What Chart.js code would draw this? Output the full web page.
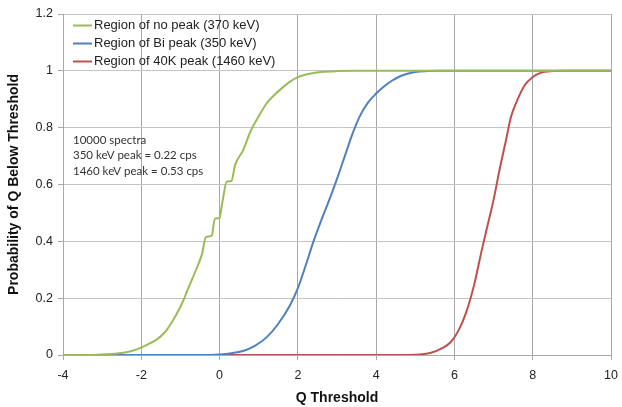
<!DOCTYPE html>
<html>
<head>
<meta charset="utf-8">
<script src="https://cdn.jsdelivr.net/npm/chart.js@4/dist/chart.umd.min.js"></script>
<style>
  html, body { margin: 0; padding: 0; background: #fff; }
  #wrap { width: 622px; height: 407px; position: relative; }
</style>
</head>
<body>
<div id="wrap"><canvas id="chart" width="622" height="407"></canvas></div>
<script>
// data
const seriesNames = ['Region of no peak (370 keV)', 'Region of Bi peak (350 keV)', 'Region of 40K peak (1460 keV)'];
const seriesColors = ['#9bbb59', '#4f81bd', '#c0504d'];

const noPeakX = [-4, -3.5, -3, -2.5, -2.2, -2, -1.8, -1.6, -1.4, -1.2, -1, -0.9, -0.8, -0.6, -0.45, -0.35, -0.2, -0.12, 0, 0.05, 0.1, 0.18, 0.3, 0.4, 0.6, 0.8, 1.0, 1.2, 1.4, 1.6, 1.8, 2.0, 2.3, 2.6, 3, 3.5, 4, 5, 6, 7, 8, 9, 10];
const noPeakY = [0, 0, 0.002, 0.007, 0.016, 0.026, 0.04, 0.055, 0.08, 0.12, 0.17, 0.2, 0.235, 0.3, 0.355, 0.415, 0.42, 0.48, 0.482, 0.52, 0.56, 0.61, 0.612, 0.67, 0.72, 0.79, 0.84, 0.885, 0.915, 0.94, 0.962, 0.978, 0.99, 0.996, 0.999, 1, 1, 1, 1, 1, 1, 1, 1];

const biPeakX = [-4, -3, -2, -1, -0.5, 0, 0.3, 0.6, 0.9, 1.2, 1.5, 1.8, 2, 2.2, 2.4, 2.6, 2.8, 3, 3.2, 3.4, 3.6, 3.8, 4, 4.2, 4.4, 4.6, 4.8, 5, 5.3, 5.6, 6, 7, 8, 9, 10];
const biPeakY = [0, 0, 0, 0, 0, 0.002, 0.006, 0.014, 0.032, 0.062, 0.11, 0.175, 0.235, 0.315, 0.4, 0.475, 0.545, 0.62, 0.7, 0.78, 0.845, 0.89, 0.92, 0.945, 0.965, 0.98, 0.99, 0.996, 0.999, 1, 1, 1, 1, 1, 1];

const kPeakX = [0, 1, 2, 3, 4, 4.5, 5, 5.4, 5.7, 5.9, 6.1, 6.3, 6.5, 6.7, 6.9, 7.0, 7.15, 7.3, 7.45, 7.6, 7.8, 8.0, 8.2, 8.5, 8.8, 9, 10];
const kPeakY = [0, 0, 0, 0, 0, 0, 0.001, 0.008, 0.025, 0.045, 0.085, 0.15, 0.245, 0.37, 0.487, 0.546, 0.65, 0.745, 0.84, 0.895, 0.95, 0.978, 0.993, 0.999, 1, 1, 1];

const noteLines = ['10000 spectra', '350 keV peak = 0.22 cps', '1460 keV peak = 0.53 cps'];

function toPoints(xs, ys) {
    return xs.map((x, i) => ({ x: x, y: ys[i] }));
}

// legend + note drawn inside the plot area, like the original
const insideLegend = {
    id: 'insideLegend',
    afterDraw(chart) {
        const ctx = chart.ctx;
        const area = chart.chartArea;
        ctx.save();
        ctx.font = '13px "Liberation Sans", Arial, sans-serif';
        ctx.textBaseline = 'middle';
        seriesNames.forEach((name, i) => {
            const y = area.top + 11.5 + i * 18;
            ctx.strokeStyle = seriesColors[i];
            ctx.lineWidth = 2;
            ctx.beginPath();
            ctx.moveTo(area.left + 10, y);
            ctx.lineTo(area.left + 29, y);
            ctx.stroke();
            ctx.fillStyle = '#222';
            ctx.fillText(name, area.left + 31, y);
        });
        ctx.font = '11.5px Lato, "Open Sans", sans-serif';
        ctx.fillStyle = '#333';
        noteLines.forEach((t, i) => {
            ctx.fillText(t, area.left + 10, area.top + 126 + i * 15.5);
        });
        ctx.restore();
    }
};

const ctx = document.getElementById('chart').getContext('2d');
new Chart(ctx, {
    type: 'line',
    data: {
        datasets: [
            { label: seriesNames[0], data: toPoints(noPeakX, noPeakY), borderColor: seriesColors[0] },
            { label: seriesNames[1], data: toPoints(biPeakX, biPeakY), borderColor: seriesColors[1] },
            { label: seriesNames[2], data: toPoints(kPeakX, kPeakY), borderColor: seriesColors[2] }
        ]
    },
    options: {
        responsive: false,
        animation: false,
        layout: { padding: { top: 14, right: 11, left: 0, bottom: 0 } },
        elements: {
            point: { radius: 0 },
            line: { borderWidth: 2, cubicInterpolationMode: 'monotone', fill: false }
        },
        plugins: {
            legend: { display: false },
            tooltip: { enabled: false }
        },
        scales: {
            x: {
                type: 'linear',
                min: -4,
                max: 10,
                ticks: {
                    stepSize: 2,
                    color: '#222',
                    font: { family: '"Liberation Sans", Arial, sans-serif', size: 12.5 },
                    padding: 8
                },
                grid: { color: '#a8a8a8', tickLength: 5, tickColor: '#a8a8a8' },
                border: { color: '#a8a8a8' },
                title: {
                    display: true,
                    text: 'Q Threshold',
                    color: '#111',
                    font: { family: '"Liberation Sans", Arial, sans-serif', size: 14, weight: 'bold' },
                    padding: { top: 1, bottom: 0 }
                },
                afterFit(scale) {
                    scale.height = 52;
                    scale.paddingRight = 0;
                    scale.paddingLeft = 0;
                }
            },
            y: {
                min: 0,
                max: 1.2,
                ticks: {
                    stepSize: 0.2,
                    color: '#222',
                    font: { family: '"Liberation Sans", Arial, sans-serif', size: 12.5 },
                    padding: 5,
                    callback: function (value) {
                        return String(Math.round(value * 10) / 10);
                    }
                },
                grid: { color: '#c4c4c4', tickLength: 5, tickColor: '#a8a8a8' },
                border: { color: '#a8a8a8' },
                title: {
                    display: true,
                    text: 'Probability of Q Below Threshold',
                    color: '#111',
                    font: { family: '"Liberation Sans", Arial, sans-serif', size: 14, weight: 'bold' },
                    padding: { top: 6, bottom: 0 }
                },
                afterFit(scale) {
                    scale.width = 63;
                    scale.paddingTop = 0;
                    scale.paddingBottom = 0;
                }
            }
        }
    },
    plugins: [insideLegend]
});
</script>
</body>
</html>
